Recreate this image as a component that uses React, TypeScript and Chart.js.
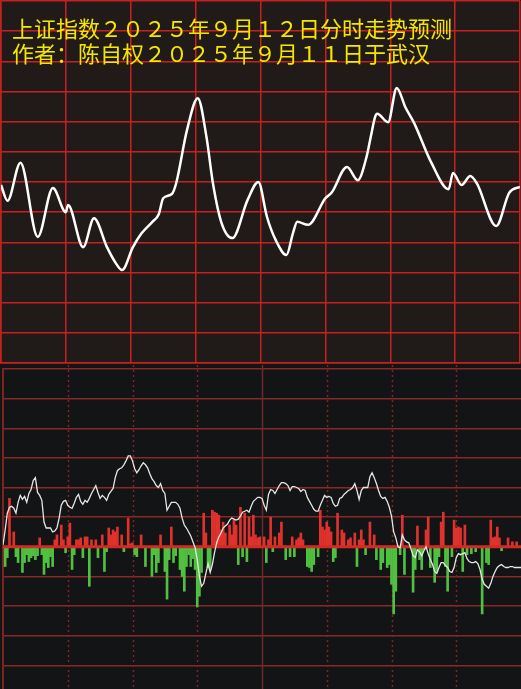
import React, { useEffect, useRef } from "react";
import { Chart, registerables } from "chart.js";

Chart.register(...registerables);

// ---------------- text ----------------
const titleLine1 = "上证指数2025年9月12日分时走势预测";
const titleLine2 = "作者：陈自权2025年9月11日于武汉";

// ---------------- time axis (minute index 0..240) ----------------
const minuteTicks = [0, 30, 60, 90, 120, 150, 180, 210, 240];
const tickTimes = ["09:30", "10:00", "10:30", "11:00", "11:30/13:00", "13:30", "14:00", "14:30", "15:00"];

// ---------------- upper panel: forecast curve ----------------
const forecastMinutes = [
  0, 3, 9, 17, 24, 30, 31, 38, 43, 49,
  53, 56, 61, 65, 70, 73, 75, 79, 81, 86,
  91, 95, 98, 102, 107, 114, 119, 123, 127, 132,
  135, 137, 142, 150, 153, 160, 165, 169, 171, 173,
  174, 179, 183, 187, 191, 199, 207, 209, 213, 217,
  220, 229, 235, 240,
];
const forecastValues = [
  3869.5, 3866.9, 3873.2, 3860.9, 3869.0, 3865.0, 3866.2, 3859.2, 3864.0, 3859.2,
  3856.6, 3855.4, 3859.2, 3861.5, 3863.4, 3864.7, 3867.3, 3868.0, 3869.8, 3878.6,
  3883.9, 3877.5, 3869.8, 3863.2, 3860.7, 3867.0, 3870.0, 3864.2, 3860.4, 3857.9,
  3861.5, 3863.4, 3862.9, 3867.3, 3868.3, 3872.5, 3870.3, 3874.1, 3877.5, 3880.8,
  3881.3, 3879.9, 3885.6, 3882.4, 3879.8, 3873.2, 3868.8, 3871.5, 3869.5, 3871.0,
  3869.8, 3862.7, 3868.2, 3869.2,
];
const forecastMin = 3840;
const forecastMax = 3900;
const forecastStep = 5;

// ---------------- lower panel: minute line and up/down bars ----------------
const lowerLine = [
  2, 17, 34, 40, 41, 39, 34, 45, 52, 48,
  51, 45, 54, 58, 67, 70, 55, 52, 47, 25,
  19, 19, 19, 15, 16, 19, 29, 42, 46, 47,
  42, 40, 39, 44, 50, 53, 46, 43, 47, 45,
  49, 54, 58, 62, 55, 49, 52, 50, 47, 53,
  56, 59, 70, 77, 79, 80, 83, 87, 92, 92,
  87, 79, 75, 78, 82, 85, 83, 80, 74, 69,
  66, 62, 60, 64, 57, 54, 37, 41, 45, 45,
  45, 43, 39, 29, 22, 19, 15, 11, 5, -1,
  -13, -30, -40, -37, -27, -17, -26, -18, -6, 4,
  10, 14, 19, 21, 23, 27, 29, 28, 27, 28,
  31, 35, 36, 37, 35, 41, 46, 48, 50, 50,
  49, 42, 37, 53, 58, 57, 54, 58, 62, 65,
  65, 64, 62, 57, 61, 61, 60, 59, 56, 58,
  57, 50, 46, 42, 38, 36, 36, 42, 47, 52,
  50, 51, 50, 44, 41, 42, 49, 50, 53, 55,
  57, 58, 60, 64, 57, 48, 57, 60, 60, 60,
  71, 75, 70, 64, 57, 51, 49, 50, 46, 40,
  31, 15, 9, 0, -1, 12, 7, 5, 4, -2,
  -9, -11, -3, -5, -9, -4, 0, -7, -13, -18,
  -25, -27, -21, -16, -16, -19, -21, -25, -26, -21,
  -11, -7, -8, -7, -6, -12, -15, -16, -16, -15,
  -17, -23, -33, -38, -40, -42, -37, -30, -25, -21,
  -19, -18, -20, -21, -21, -20, -20, -21, -21, -21,
  -21,
];

const redMinutes = [
  3, 5, 17, 24, 25, 27, 28, 30, 31, 34, 35, 36, 38, 39, 41, 43, 46, 49, 50, 51,
  52, 53, 55, 58, 59, 60, 64, 73, 78, 93, 94, 97, 98, 99, 100, 101, 102, 103, 105, 106,
  107, 108, 110, 112, 114, 115, 116, 117, 118, 119, 121, 123, 124, 126, 128, 129, 134, 136, 137, 138,
  139, 147, 148, 149, 150, 151, 152, 155, 157, 158, 160, 161, 163, 165, 166, 167, 170, 172, 185, 192,
  196, 197, 203, 204, 209, 210, 211, 212, 214, 226, 227, 228, 229, 230, 234, 236, 238,
];
const redValues = [
  49, 15, 9, 7, 12, 22, 7, 10, 24, 7, 7, 9, 10, 10, 7, 7, 12, 19, 12, 17,
  15, 20, 12, 29, 3, 4, 12, 12, 20, 34, 14, 37, 35, 34, 32, 17, 25, 14, 22, 12,
  27, 22, 40, 34, 30, 10, 32, 12, 9, 10, 10, 7, 30, 10, 14, 25, 10, 7, 9, 14,
  7, 37, 20, 17, 25, 20, 15, 34, 17, 14, 7, 9, 14, 7, 17, 7, 25, 12, 32, 21,
  17, 30, 25, 35, 27, 19, 20, 19, 22, 27, 9, 10, 20, 9, 9, 5, 5,
];

const greenMinutes = [
  1, 2, 6, 7, 9, 10, 11, 12, 13, 14, 15, 16, 18, 19, 20, 21, 22, 23, 29, 32,
  33, 37, 40, 44, 47, 48, 56, 61, 62, 66, 69, 70, 71, 72, 75, 76, 77, 79, 80, 82,
  83, 84, 85, 86, 87, 88, 89, 90, 91, 92, 95, 96, 109, 111, 113, 122, 125, 131, 133, 135,
  141, 142, 143, 144, 146, 153, 154, 164, 168, 173, 175, 176, 178, 179, 180, 181, 182, 184, 186, 190,
  191, 193, 194, 195, 198, 200, 201, 202, 205, 206, 208, 213, 215, 217, 219, 222, 224, 225, 231,
];
const greenValues = [
  -20, -11, -10, -16, -26, -16, -8, -15, -11, -9, -13, -9, -8, -28, -16, -21, -10, -20, -6, -23,
  -8, -11, -40, -11, -25, -5, -5, -8, -10, -20, -30, -8, -26, -16, -25, -53, -13, -16, -9, -23,
  -30, -45, -20, -8, -20, -12, -23, -61, -50, -26, -21, -23, -18, -10, -15, -16, -5, -13, -10, -10,
  -20, -21, -25, -18, -10, -15, -11, -20, -8, -13, -23, -16, -21, -18, -38, -68, -45, -8, -28, -46,
  -23, -13, -23, -3, -21, -36, -25, -10, -20, -45, -10, -25, -8, -7, -5, -68, -16, -18, -4,
];
const lowerMin = -144;
const lowerMax = 180;
const lowerStep = 30;

// ---------------- helpers ----------------
const backgroundPlugin = (id: string, color: string) => ({
  id,
  beforeDraw(chart: any) {
    const { ctx, width, height } = chart;
    ctx.save();
    ctx.fillStyle = color;
    ctx.fillRect(0, 0, width, height);
    ctx.restore();
  },
});

const lowerDecorPlugin = {
  id: "lowerDecor",
  beforeDatasetsDraw(chart: any) {
    const { ctx, chartArea, scales } = chart;
    ctx.save();
    minuteTicks.forEach((m) => {
      if (m === 0 || m === 240) return;
      const x = Math.round(scales.x.getPixelForValue(m)) + 0.5;
      ctx.beginPath();
      ctx.strokeStyle = m === 120 ? "#6e2a2a" : "#7e2626";
      ctx.lineWidth = m === 120 ? 1.5 : 1.5;
      ctx.setLineDash(m === 120 ? [] : [2, 3]);
      ctx.moveTo(x, chartArea.top - 4);
      ctx.lineTo(x, chartArea.bottom);
      ctx.stroke();
    });
    ctx.restore();
  },
  beforeDatasetDraw(chart: any, args: any) {
    if (args.index !== 0) return;
    const { ctx, chartArea, scales } = chart;
    const y = scales.y.getPixelForValue(0);
    ctx.save();
    ctx.strokeStyle = "#d42a24";
    ctx.lineWidth = 3;
    ctx.beginPath();
    ctx.moveTo(chartArea.left, y);
    ctx.lineTo(chartArea.right, y);
    ctx.stroke();
    ctx.restore();
  },
};

export default function App() {
  const topRef = useRef<HTMLCanvasElement | null>(null);
  const bottomRef = useRef<HTMLCanvasElement | null>(null);

  useEffect(() => {
    document.body.style.margin = "0";
    const gridRed = "#c62020";

    const top = new Chart(topRef.current as HTMLCanvasElement, {
      type: "line",
      data: {
        datasets: [
          {
            label: "预测",
            data: forecastMinutes.map((m, i) => ({ x: m, y: forecastValues[i] })),
            borderColor: "#ffffff",
            borderWidth: 2.5,
            pointRadius: 0,
            cubicInterpolationMode: "monotone",
            fill: false,
          },
        ],
      },
      options: {
        animation: false,
        responsive: false,
        events: [],
        layout: { padding: { left: 1, top: 1, right: 1, bottom: 1 } },
        plugins: { legend: { display: false }, tooltip: { enabled: false }, title: { display: false } },
        scales: {
          x: {
            type: "linear",
            min: 0,
            max: 240,
            ticks: {
              display: false,
              stepSize: 30,
              callback: (v: any) => tickTimes[minuteTicks.indexOf(Number(v))] ?? "",
            },
            grid: { color: gridRed, lineWidth: 1.5, drawTicks: false },
            border: { display: true, color: gridRed, width: 1.5 },
          },
          y: {
            type: "linear",
            min: forecastMin,
            max: forecastMax,
            ticks: { display: false, stepSize: forecastStep },
            grid: { color: gridRed, lineWidth: 1.5, drawTicks: false },
            border: { display: true, color: gridRed, width: 1.5 },
          },
        },
      },
      plugins: [backgroundPlugin("topBg", "#201a18")],
    } as any);

    const bottom = new Chart(bottomRef.current as HTMLCanvasElement, {
      type: "bar",
      data: {
        datasets: [
          {
            type: "line",
            label: "分时",
            data: lowerLine.map((v, i) => ({ x: i, y: v })),
            borderColor: "#e6e6e6",
            borderWidth: 1.3,
            pointRadius: 0,
            tension: 0,
            order: 0,
          },
          {
            type: "bar",
            label: "红",
            data: redMinutes.map((m, i) => ({ x: m, y: redValues[i] })),
            backgroundColor: "#e0322c",
            barThickness: 2,
            grouped: false,
            order: 1,
          },
          {
            type: "bar",
            label: "绿",
            data: greenMinutes.map((m, i) => ({ x: m, y: greenValues[i] })),
            backgroundColor: "#50c040",
            barThickness: 2,
            grouped: false,
            order: 2,
          },
        ],
      },
      options: {
        animation: false,
        responsive: false,
        events: [],
        layout: { padding: { left: 3, top: 5, right: 0, bottom: 0 } },
        plugins: { legend: { display: false }, tooltip: { enabled: false }, title: { display: false } },
        scales: {
          x: {
            type: "linear",
            min: 0,
            max: 240,
            offset: false,
            ticks: { display: false, stepSize: 30 },
            grid: { display: false, drawTicks: false },
            border: { display: false },
          },
          y: {
            type: "linear",
            min: lowerMin,
            max: lowerMax,
            ticks: { display: false, stepSize: lowerStep, includeBounds: false },
            grid: { color: "#8a2828", lineWidth: 1.5, drawTicks: false },
            border: { display: true, color: "#7a2424", width: 2 },
          },
        },
      },
      plugins: [backgroundPlugin("bottomBg", "#131416"), lowerDecorPlugin],
    } as any);

    return () => {
      top.destroy();
      bottom.destroy();
    };
  }, []);

  return (
    <div style={{ position: "absolute", left: 0, top: 0, width: 521, height: 689, overflow: "hidden" }}>
      <canvas ref={topRef} width={521} height={364} style={{ display: "block", width: 521, height: 364 }} />
      <canvas ref={bottomRef} width={521} height={325} style={{ display: "block", width: 521, height: 325 }} />
      <div
        style={{
          position: "absolute",
          left: 12,
          top: 15,
          color: "#f5e600",
          fontFamily: '"Noto Sans CJK SC", sans-serif',
          fontSize: 22,
          lineHeight: "25px",
          fontVariantEastAsian: "full-width",
          whiteSpace: "nowrap",
          pointerEvents: "none",
        } as any}
      >
        <div>{titleLine1}</div>
        <div>{titleLine2}</div>
      </div>
    </div>
  );
}
